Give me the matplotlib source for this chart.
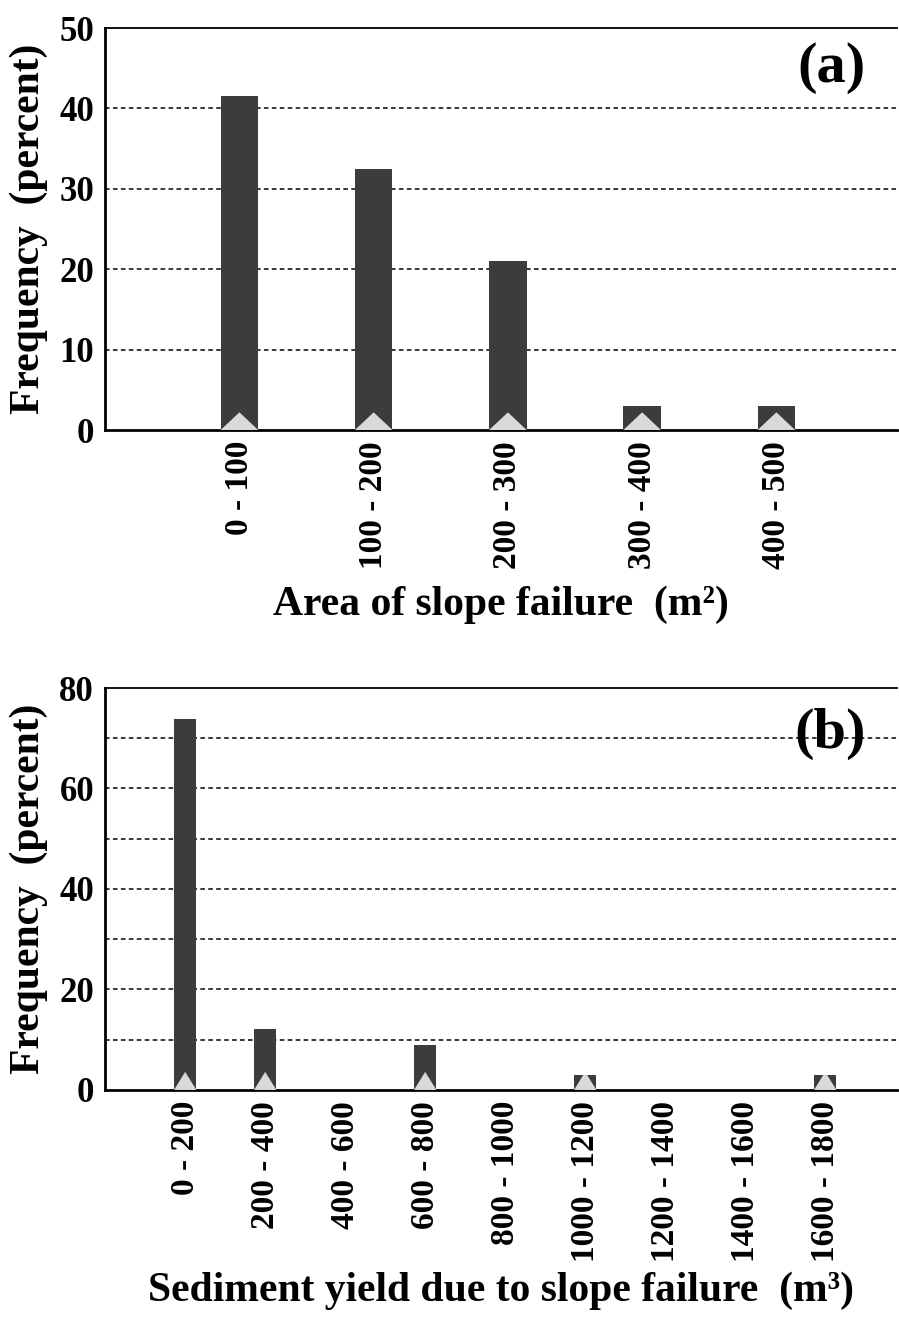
import numpy as np
import matplotlib
matplotlib.use("Agg")
import matplotlib.pyplot as plt
from matplotlib.patches import Polygon

plt.rcParams['font.family'] = ['Liberation Serif', 'DejaVu Serif']
plt.rcParams['font.weight'] = 'bold'

# panel (a): area of slope failure
area_bins = ['0 - 100', '100 - 200', '200 - 300', '300 - 400', '400 - 500']
area_freq = [41.5, 32.5, 21.0, 3.0, 3.0]

# panel (b): sediment yield
yield_bins = ['0 - 200', '200 - 400', '400 - 600', '600 - 800', '800 - 1000',
              '1000 - 1200', '1200 - 1400', '1400 - 1600', '1600 - 1800']
yield_freq = [73.8, 12.1, 0.0, 9.0, 0.0, 3.0, 0.0, 0.0, 3.0]

BAR = '#3c3c3c'
TRI = '#d9d9d9'


def draw_panel(ax, cats, vals, ymax, gstep, lstep, tri_h, xlabel, xpad, tag, tag_y):
    x = np.arange(len(cats))
    bars = ax.bar(x, vals, width=0.28, color=BAR, edgecolor='none', zorder=3)
    # light triangle at the foot of each bar
    for b in bars:
        h = b.get_height()
        if h <= 0:
            continue
        x0, w = b.get_x(), b.get_width()
        xc = x0 + w / 2
        if h >= tri_h:
            pts = [(x0, 0), (x0 + w, 0), (xc, tri_h)]
        else:
            f = h / tri_h
            pts = [(x0, 0), (x0 + w, 0), (x0 + w - f * w / 2, h), (x0 + f * w / 2, h)]
        ax.add_patch(Polygon(pts, closed=True, color=TRI, lw=0, zorder=4))

    ax.set_xlim(-1, len(cats) - 0.1)
    ax.set_ylim(0, ymax)
    for g in np.arange(gstep, ymax, gstep):
        ax.axhline(g, color='black', lw=1.1, ls=(0, (3, 2.2)), zorder=1)
    ax.set_yticks(np.arange(0, ymax + 1, lstep))
    ax.set_xticks(x)
    ax.set_xticklabels(cats, rotation=90, va='top', ha='center')
    ax.tick_params(axis='y', length=0, labelsize=25, pad=8)
    ax.tick_params(axis='x', length=0, labelsize=24, pad=8)
    ax.set_ylabel('Frequency  (percent)', fontsize=30, fontweight='bold', labelpad=8)
    ax.set_xlabel(xlabel, fontsize=30, fontweight='bold', labelpad=xpad)
    ax.spines['right'].set_visible(False)
    ax.spines['left'].set_linewidth(2)
    ax.spines['bottom'].set_linewidth(2)
    ax.spines['top'].set_linewidth(1.3)
    ax.text(0.96, tag_y, tag, transform=ax.transAxes, ha='right', va='center',
            fontsize=42, fontweight='bold', zorder=5)


fig = plt.figure(figsize=(8.99, 13.17), dpi=100)
ax1 = fig.add_axes([0.117, 0.6735, 0.881, 0.3052])
ax2 = fig.add_axes([0.117, 0.1724, 0.881, 0.3052])

draw_panel(ax1, area_bins, area_freq, 50, 10, 10, 2.2,
           'Area of slope failure  (m²)', 12, '(a)', 0.9)
draw_panel(ax2, yield_bins, yield_freq, 80, 10, 20, 3.6,
           'Sediment yield due to slope failure  (m³)', 7, '(b)', 0.885)

fig.savefig('out.png', dpi=100, facecolor='white')
